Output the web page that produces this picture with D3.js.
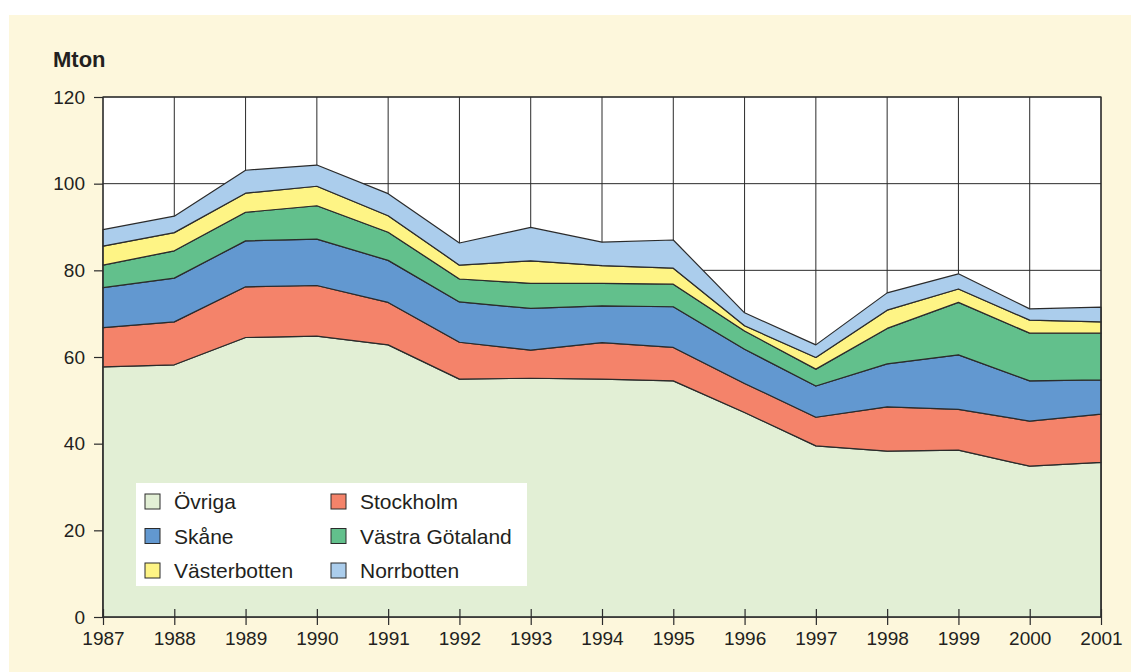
<!DOCTYPE html>
<html>
<head>
<meta charset="utf-8">
<script src="https://cdn.jsdelivr.net/npm/d3@7"></script>
<style>
  body { margin: 0; background: #fff; }
  text { font-family: "Liberation Sans", Arial, sans-serif; fill: #231f20; }
</style>
</head>
<body>
<div id="chart"></div>
<script>
// data, Mton per region, stacked bottom to top
var years = [1987,1988,1989,1990,1991,1992,1993,1994,1995,1996,1997,1998,1999,2000,2001]
var ovriga      = [57.7,58.2,64.5,64.8,62.8,54.9,55.1,54.9,54.5,47.2,39.5,38.3,38.5,34.8,35.7]
var stockholm   = [9.1,9.9,11.7,11.7,9.8,8.5,6.5,8.4,7.7,6.7,6.6,10.2,9.4,10.4,11.1]
var skane       = [9.2,10.1,10.6,10.7,9.7,9.3,9.6,8.5,9.4,7.9,7.2,9.9,12.6,9.3,7.9]
var vastraGot   = [5.2,6.3,6.6,7.7,6.5,5.3,5.8,5.2,5.2,4.2,3.9,8.2,12.1,11.0,10.8]
var vasterbotten= [4.4,4.2,4.4,4.5,3.8,3.2,5.2,4.1,3.7,1.2,2.7,4.2,3.1,3.0,2.6]
var norrbotten  = [3.8,3.8,5.3,4.9,5.1,5.1,7.7,5.4,6.5,3.0,2.9,4.0,3.5,2.6,3.4]
var yTicks = [0,20,40,60,80,100,120]

var series = [
  {key:"Övriga", values:ovriga, color:"#e2efd5"},
  {key:"Stockholm", values:stockholm, color:"#f4836a"},
  {key:"Skåne", values:skane, color:"#6298d0"},
  {key:"Västra Götaland", values:vastraGot, color:"#62c08c"},
  {key:"Västerbotten", values:vasterbotten, color:"#fef485"},
  {key:"Norrbotten", values:norrbotten, color:"#abcdec"}
]

var table = years.map(function(y,i){
  var row = {year:y}
  series.forEach(function(s){ row[s.key] = s.values[i] })
  return row
})

var screen = {width:1131, height:672}
var margin = {top:97, right:30, bottom:55, left:103}
var w = 1101 - margin.left
var h = 617 - margin.top

var xScale = d3.scaleLinear().domain([1987,2001]).range([margin.left, margin.left+w])
var yScale = d3.scaleLinear().domain([0,120]).range([margin.top+h, margin.top])

var svg = d3.select("#chart").append("svg")
  .attr("width", screen.width)
  .attr("height", screen.height)

// cream background
svg.append("rect")
  .attr("x", 9).attr("y", 15)
  .attr("width", screen.width-9).attr("height", screen.height-15)
  .style("fill", "#fdf7dc")

// plot area
svg.append("rect")
  .attr("x", margin.left).attr("y", margin.top)
  .attr("width", w).attr("height", h)
  .style("fill", "#fff")

// grid
svg.append("g").selectAll("line.v")
  .data(years).enter().append("line")
  .attr("x1", function(d){ return xScale(d) }).attr("x2", function(d){ return xScale(d) })
  .attr("y1", margin.top).attr("y2", margin.top+h)
  .style("stroke", "#2b2b2b").style("stroke-width", 1)
svg.append("g").selectAll("line.h")
  .data(yTicks).enter().append("line")
  .attr("x1", margin.left).attr("x2", margin.left+w)
  .attr("y1", function(d){ return yScale(d) }).attr("y2", function(d){ return yScale(d) })
  .style("stroke", "#2b2b2b").style("stroke-width", 1)

// stacked areas
var stack = d3.stack().keys(series.map(function(s){ return s.key }))
var layers = stack(table)
var area = d3.area()
  .x(function(d){ return xScale(d.data.year) })
  .y0(function(d){ return yScale(d[0]) })
  .y1(function(d){ return yScale(d[1]) })

svg.append("g").selectAll("path")
  .data(layers).enter().append("path")
  .attr("d", area)
  .style("fill", function(d,i){ return series[i].color })
  .style("stroke", "#2b2b2b")
  .style("stroke-width", 1.2)
  .style("stroke-linejoin", "round")

// frame over the areas
svg.append("rect")
  .attr("x", margin.left).attr("y", margin.top)
  .attr("width", w).attr("height", h)
  .style("fill", "none").style("stroke", "#2b2b2b").style("stroke-width", 1.2)

// axes
var yAxis = d3.axisLeft(yScale).tickValues(yTicks).tickSize(9).tickPadding(9)
var gy = svg.append("g")
  .attr("transform", "translate(" + margin.left + ",0)")
  .call(yAxis)
gy.select(".domain").remove()
gy.selectAll("line").style("stroke", "#2b2b2b").style("stroke-width", 1.2)
gy.selectAll("text").style("font-size", "19px").style("font-family", "Liberation Sans, Arial, sans-serif").attr("fill", "#231f20")

var xAxis = d3.axisBottom(xScale).tickValues(years).tickFormat(d3.format("d")).tickSize(8).tickPadding(7)
var gx = svg.append("g")
  .attr("transform", "translate(0," + (margin.top+h) + ")")
  .call(xAxis)
gx.select(".domain").remove()
gx.selectAll("line").attr("y1", -8).style("stroke", "#2b2b2b").style("stroke-width", 1.2)
gx.selectAll("text").style("font-size", "19px").style("font-family", "Liberation Sans, Arial, sans-serif").attr("fill", "#231f20")

// unit title
svg.append("text")
  .attr("x", 53).attr("y", 67)
  .text("Mton")
  .style("font-size", "22px").style("font-weight", "bold")

// legend
var legend = svg.append("g")
legend.append("rect")
  .attr("x", 136).attr("y", 483).attr("width", 391).attr("height", 103)
  .style("fill", "#fff")
var order = [0,1,2,3,4,5]
legend.selectAll("g.item")
  .data(order).enter().append("g")
  .attr("transform", function(d){
    var col = d % 2, row = Math.floor(d/2)
    return "translate(" + (145 + col*186) + "," + (494 + row*34.5) + ")"
  })
  .each(function(d){
    var g = d3.select(this)
    g.append("rect").attr("width", 15).attr("height", 15)
      .style("fill", series[d].color).style("stroke", "#2b2b2b").style("stroke-width", 1)
    g.append("text").attr("x", 29).attr("y", 15)
      .text(series[d].key).style("font-size", "21px")
  })
</script>
</body>
</html>
